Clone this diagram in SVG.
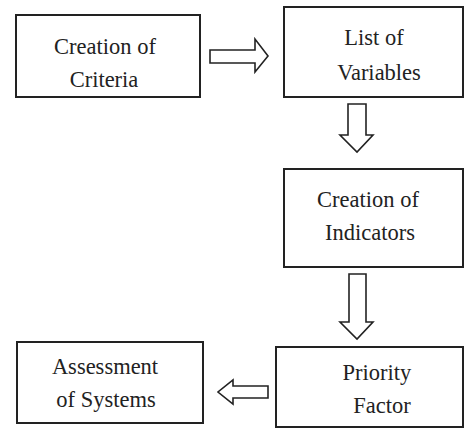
<svg xmlns="http://www.w3.org/2000/svg" width="464" height="428" viewBox="0 0 464 428">
<style>
.box{fill:#fff;stroke:#222;stroke-width:2}
.arr{fill:#fff;stroke:#222;stroke-width:1.6;stroke-linejoin:miter}
.t{font-family:'Liberation Serif','Times New Roman',serif;font-size:22.5px;fill:#222;text-anchor:middle}
</style>
<rect width="464" height="428" fill="#fff"/>
<g id="connectors">
<path class="arr" d="M210,50 H255 V39 L268,56 L255,72 V63 H210 Z"/>
<path class="arr" d="M348,104 H366 V135 H373 L357,152 L340,135 H348 Z"/>
<path class="arr" d="M349,274 H366 V322 H373 L357,339 L340,322 H349 Z"/>
<path class="arr" d="M268,386 H233 V380 L218,392 L233,404 V398 H268 Z"/>
</g>
<g id="n1"><rect class="box" x="16" y="15" width="184" height="82"/><text class="t" x="105" y="54">Creation of</text><text class="t" x="104" y="87">Criteria</text></g>
<g id="n2"><rect class="box" x="284" y="7" width="179" height="90"/><text class="t" x="374" y="45">List of</text><text class="t" x="379" y="80">Variables</text></g>
<g id="n3"><rect class="box" x="284" y="169" width="179" height="98"/><text class="t" x="368" y="207">Creation of</text><text class="t" x="370" y="240">Indicators</text></g>
<g id="n4"><rect class="box" x="276" y="347" width="187" height="80"/><text class="t" x="377" y="380">Priority</text><text class="t" x="382" y="413">Factor</text></g>
<g id="n5"><rect class="box" x="17" y="342" width="186" height="81"/><text class="t" x="105" y="374">Assessment</text><text class="t" x="106" y="407">of Systems</text></g>
</svg>
